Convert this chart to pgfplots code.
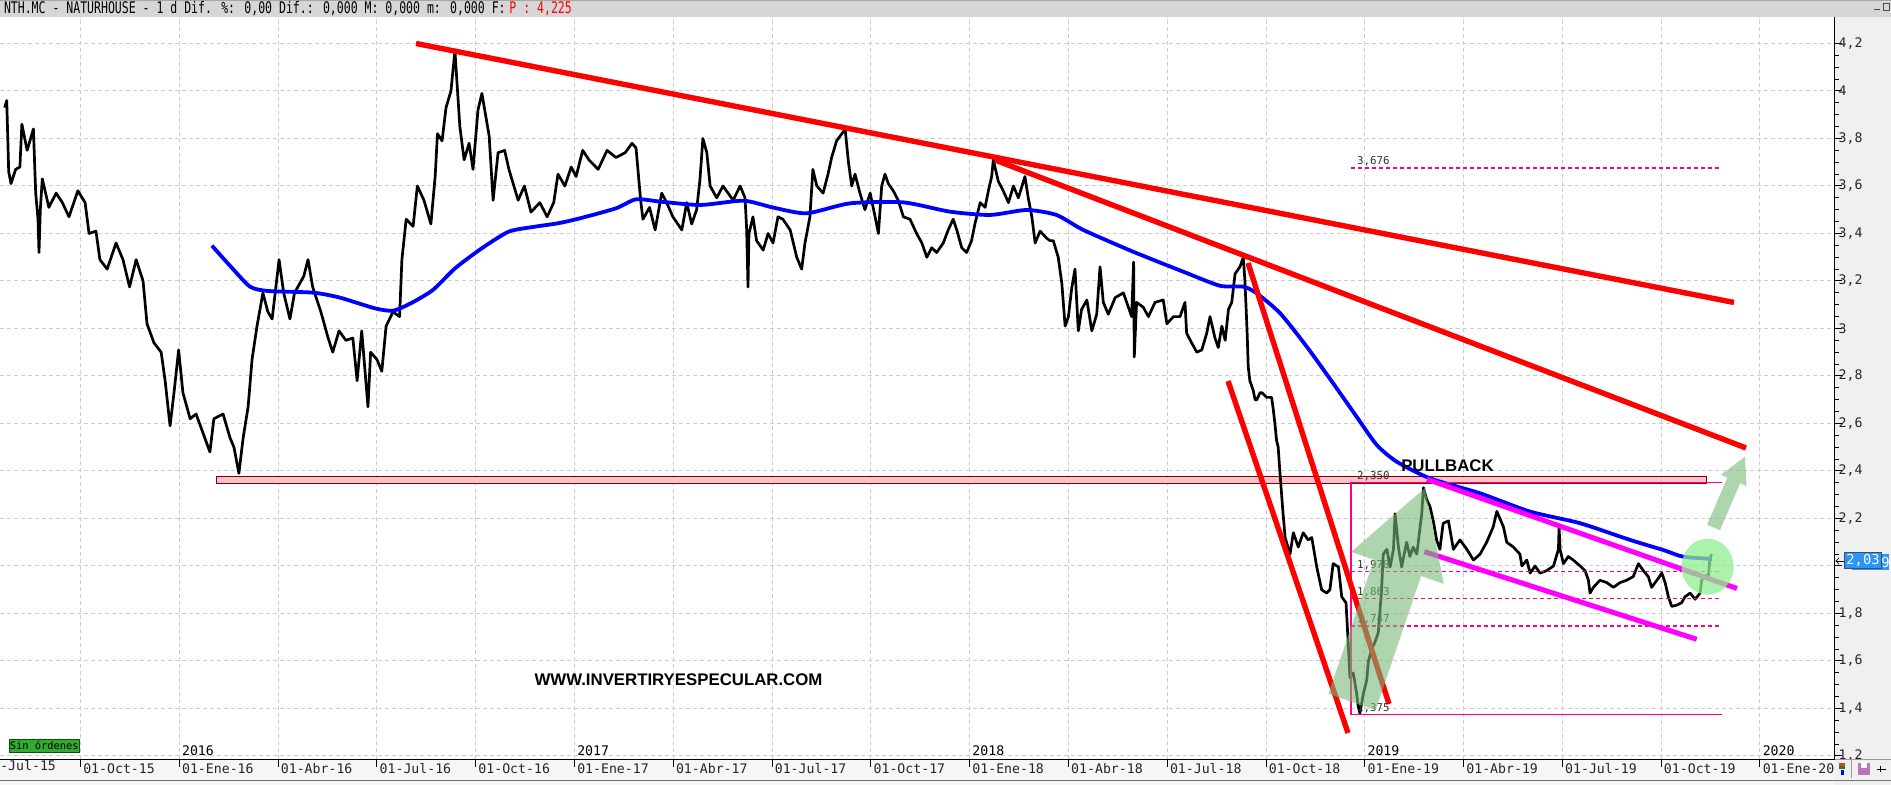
\documentclass[border=0pt]{standalone}
\usepackage{pgfplots}
\pgfplotsset{compat=1.18}
\usepackage{pgfplotstable}
\usepackage{fontspec}
\setmainfont{Liberation Sans}
\newfontfamily\monof{DejaVu Sans Mono}
\newfontfamily\headf[FakeStretch=0.72]{DejaVu Sans Mono}

\definecolor{trendred}{RGB}{255,0,0}
\definecolor{chanmag}{RGB}{255,0,255}
\definecolor{mablue}{RGB}{0,0,255}
\definecolor{fibo}{RGB}{255,0,128}
\definecolor{boxpink}{RGB}{255,192,203}
\definecolor{boxred}{RGB}{128,0,0}
\definecolor{arrowgreen}{RGB}{120,185,120}
\definecolor{circgreen}{RGB}{144,238,144}
\definecolor{panel}{RGB}{240,240,240}
\definecolor{headgray}{RGB}{214,214,214}
\definecolor{pricebox}{RGB}{40,150,250}
\definecolor{gridgray}{RGB}{205,205,205}
\definecolor{ordgreen}{RGB}{51,170,51}

% x = months since 01-Jul-15, y = price
\pgfplotstableread{
m v
0.70 3.93
0.76 3.96
0.82 3.66
0.89 3.61
1.03 3.67
1.16 3.68
1.22 3.86
1.38 3.75
1.57 3.84
1.64 3.57
1.71 3.46
1.74 3.32
1.78 3.50
1.84 3.63
2.04 3.51
2.26 3.57
2.45 3.53
2.65 3.47
2.92 3.58
3.14 3.53
3.26 3.40
3.47 3.41
3.59 3.29
3.81 3.25
4.08 3.36
4.29 3.29
4.49 3.175
4.69 3.29
4.90 3.20
5.02 3.02
5.23 2.94
5.45 2.90
5.57 2.78
5.72 2.59
5.84 2.73
5.98 2.91
6.11 2.73
6.33 2.62
6.51 2.64
6.72 2.56
6.93 2.48
7.05 2.62
7.33 2.64
7.54 2.54
7.66 2.50
7.81 2.39
7.94 2.54
8.09 2.67
8.21 2.87
8.36 3.01
8.54 3.15
8.69 3.07
8.82 3.04
9.03 3.29
9.17 3.15
9.36 3.04
9.50 3.15
9.78 3.22
9.91 3.29
10.05 3.175
10.30 3.07
10.52 2.96
10.66 2.90
10.85 2.99
11.06 2.95
11.27 2.96
11.40 2.78
11.54 2.99
11.73 2.67
11.81 2.90
12.00 2.87
12.15 2.82
12.28 3.01
12.49 3.07
12.69 3.05
12.76 3.29
12.89 3.46
13.10 3.43
13.23 3.60
13.43 3.54
13.64 3.44
13.77 3.64
13.84 3.82
13.98 3.79
14.10 3.93
14.25 4.00
14.37 4.17
14.52 3.85
14.65 3.71
14.80 3.78
14.92 3.67
15.07 3.92
15.19 3.99
15.41 3.81
15.53 3.54
15.68 3.74
15.88 3.75
16.01 3.67
16.29 3.54
16.48 3.60
16.68 3.49
16.95 3.53
17.17 3.47
17.37 3.53
17.50 3.65
17.71 3.60
17.90 3.68
18.05 3.64
18.25 3.75
18.44 3.71
18.72 3.67
18.99 3.75
19.26 3.72
19.54 3.74
19.75 3.78
19.87 3.76
20.01 3.54
20.08 3.46
20.28 3.51
20.45 3.415
20.65 3.57
20.80 3.53
20.99 3.47
21.26 3.415
21.41 3.53
21.56 3.44
21.71 3.50
21.81 3.625
21.90 3.80
22.02 3.74
22.12 3.60
22.32 3.55
22.51 3.60
22.82 3.54
23.03 3.60
23.18 3.55
23.23 3.415
23.27 3.175
23.30 3.40
23.42 3.47
23.53 3.37
23.73 3.33
23.88 3.40
24.03 3.36
24.18 3.47
24.33 3.46
24.55 3.415
24.75 3.30
24.90 3.25
25.00 3.36
25.15 3.47
25.24 3.67
25.36 3.60
25.55 3.57
25.70 3.65
25.81 3.72
25.96 3.79
26.12 3.82
26.22 3.84
26.32 3.70
26.42 3.60
26.52 3.65
26.67 3.57
26.82 3.50
26.98 3.57
27.13 3.47
27.23 3.40
27.33 3.60
27.43 3.65
27.53 3.61
27.68 3.58
27.83 3.54
27.99 3.47
28.19 3.46
28.39 3.40
28.55 3.36
28.70 3.30
28.85 3.34
29.00 3.32
29.20 3.36
29.35 3.415
29.50 3.46
29.61 3.415
29.76 3.34
29.91 3.32
30.06 3.37
30.16 3.44
30.32 3.53
30.47 3.51
30.57 3.58
30.67 3.64
30.72 3.71
30.87 3.62
31.02 3.58
31.18 3.53
31.33 3.60
31.48 3.55
31.68 3.64
31.78 3.55
31.89 3.47
31.99 3.36
32.14 3.41
32.34 3.38
32.44 3.37
32.54 3.37
32.69 3.30
32.80 3.19
32.90 3.01
33.00 3.05
33.10 3.17
33.20 3.25
33.30 2.99
33.40 3.08
33.56 3.12
33.71 2.99
33.86 3.06
33.96 3.26
34.06 3.11
34.21 3.06
34.42 3.13
34.67 3.15
34.82 3.09
34.92 3.05
34.98 3.28
35.00 2.88
35.07 3.11
35.27 3.09
35.43 3.05
35.63 3.11
35.88 3.12
35.99 3.02
36.19 3.05
36.39 3.05
36.54 3.11
36.59 2.98
36.74 2.94
36.90 2.90
37.05 2.91
37.20 2.98
37.30 3.05
37.45 2.96
37.55 2.92
37.66 3.01
37.76 2.95
37.86 3.08
37.96 3.11
38.06 3.23
38.21 3.26
38.31 3.30
38.36 3.20
38.41 3.04
38.43 2.97
38.46 2.84
38.51 2.78
38.61 2.74
38.67 2.70
38.72 2.70
38.82 2.73
38.87 2.73
39.02 2.71
39.17 2.71
39.22 2.66
39.27 2.60
39.32 2.53
39.37 2.50
39.42 2.40
39.51 2.235
39.58 2.12
39.73 2.05
39.83 2.14
39.98 2.08
40.13 2.14
40.28 2.11
40.39 2.12
40.54 1.996
40.69 1.90
40.84 1.886
40.94 1.90
41.04 2.01
41.20 1.996
41.30 1.87
41.43 1.845
41.47 1.745
41.55 1.53
41.65 1.55
41.75 1.465
41.80 1.41
41.85 1.38
41.96 1.465
42.06 1.52
42.11 1.60
42.21 1.65
42.31 1.68
42.41 1.72
42.51 1.90
42.56 2.05
42.67 2.07
42.77 1.996
42.87 2.07
42.92 2.22
43.02 2.08
43.12 1.996
43.27 2.10
43.37 2.04
43.47 2.08
43.58 2.05
43.68 2.165
43.73 2.22
43.78 2.33
43.88 2.28
43.98 2.25
44.08 2.19
44.18 2.11
44.28 2.07
44.38 2.18
44.54 2.19
44.69 2.07
44.89 2.11
45.10 2.07
45.30 2.025
45.50 2.05
45.70 2.10
45.90 2.165
46.01 2.23
46.21 2.165
46.31 2.10
46.51 2.08
46.71 2.05
46.77 2.00
46.92 2.025
47.02 1.97
47.17 2.00
47.32 1.97
47.52 1.98
47.73 2.00
47.88 2.07
47.90 2.165
47.93 2.07
48.03 2.01
48.18 2.04
48.33 2.025
48.54 2.00
48.69 1.98
48.79 1.94
48.84 1.886
48.94 1.91
49.14 1.94
49.35 1.93
49.55 1.91
49.75 1.93
49.95 1.94
50.15 1.955
50.31 2.01
50.46 1.98
50.61 1.955
50.71 1.91
50.87 1.94
51.02 1.97
51.12 1.93
51.22 1.87
51.32 1.83
51.47 1.835
51.62 1.845
51.72 1.87
51.88 1.886
52.03 1.86
52.18 1.886
52.23 1.94
52.33 1.96
52.43 1.955
52.48 2.03
52.53 2.05
}\pricetable

% moving average
\pgfplotstableread{
m v
6.99 3.349
7.60 3.255
8.15 3.176
8.69 3.158
10.05 3.151
10.85 3.131
11.94 3.085
12.49 3.075
13.03 3.106
13.70 3.162
14.38 3.254
15.19 3.338
16.01 3.408
16.82 3.429
17.50 3.443
18.17 3.464
19.26 3.506
19.87 3.544
20.62 3.534
21.82 3.520
23.13 3.538
24.04 3.509
25.05 3.485
26.37 3.527
27.99 3.531
29.40 3.492
30.62 3.478
31.73 3.499
32.64 3.478
33.45 3.415
34.97 3.323
36.49 3.239
37.60 3.180
38.31 3.176
38.72 3.148
39.43 3.064
40.24 2.923
41.04 2.769
41.75 2.629
42.36 2.510
42.97 2.439
43.98 2.369
45.50 2.306
47.02 2.229
48.54 2.180
50.05 2.110
51.07 2.067
51.67 2.039
52.54 2.030
}\matable

\begin{document}
\begin{tikzpicture}
\useasboundingbox (0,0) rectangle (945.5pt,-392.5pt);
\clip (0,0) rectangle (945.5pt,-392.5pt);

% window background (pixel units)
\begin{scope}[x=0.5pt,y=-0.5pt]
  \fill[white] (0,0) rectangle (1891,785);
  \fill[headgray] (0,0) rectangle (1891,17);
  \fill[black!35] (0,0) rectangle (1891,1.5);
  \fill[panel] (1834.6,17) rectangle (1891,785);
  \fill[panel!60!white] (0,759.3) rectangle (1834.6,785);
\end{scope}

\begin{axis}[
  at={(0pt,-379.65pt)}, anchor=south west,
  scale only axis, width=917.3pt, height=371.15pt,
  xmin=0.5557, xmax=56.267, ymin=1.1861, ymax=4.3116,
  axis x line*=bottom, axis y line*=right,
  axis line style={black, line width=0.6pt, -},
  tick align=outside,
  major tick length=3.8pt, minor tick length=2pt,
  every tick/.style={black, line width=0.5pt},
  xtick={3,6,...,54},
  xticklabels={01-Oct-15,01-Ene-16,01-Abr-16,01-Jul-16,01-Oct-16,01-Ene-17,01-Abr-17,01-Jul-17,01-Oct-17,01-Ene-18,01-Abr-18,01-Jul-18,01-Oct-18,01-Ene-19,01-Abr-19,01-Jul-19,01-Oct-19,01-Ene-20},
  ytick={1.2,1.4,1.6,1.8,2,2.2,2.4,2.6,2.8,3,3.2,3.4,3.6,3.8,4,4.2},
  yticklabels={{1,2},{1,4},{1,6},{1,8},{},{2,2},{2,4},{2,6},{2,8},{3},{3,2},{3,4},{3,6},{3,8},{4},{4,2}},
  minor y tick num=3,
  grid=major,
  major grid style={gridgray, line width=0.5pt, dash pattern=on 2pt off 1.5pt},
  tick label style={font=\monof\fontsize{6.6}{7}\selectfont, text=black!85},
  xticklabel style={anchor=north west, inner sep=0pt, xshift=1.2pt, yshift=2pt},
  yticklabel style={anchor=west, inner sep=0pt, xshift=-2pt},
]

% support zone
\draw[boxred, fill=boxpink, line width=0.5pt] (axis cs:7.115,2.348) rectangle (axis cs:52.362,2.376);

% price
\addplot[black, line width=1.35pt, line join=round] table[x=m,y=v]{\pricetable};

% moving average
\addplot[mablue, line width=1.9pt, smooth, tension=0.4] table[x=m,y=v]{\matable};

% retracement tool
\addplot[fibo, line width=0.6pt] coordinates {(52.839,2.35) (41.582,2.35) (41.582,1.375) (52.839,1.375)};
\addplot[fibo, line width=0.6pt, dash pattern=on 2pt off 1.5pt] coordinates {(41.582,1.978) (52.839,1.978)};
\addplot[fibo, line width=0.6pt, dash pattern=on 2pt off 1.5pt] coordinates {(41.582,1.863) (52.839,1.863)};
\addplot[fibo, line width=0.6pt, dash pattern=on 2pt off 1.5pt] coordinates {(41.582,1.747) (52.839,1.747)};
\addplot[fibo, line width=0.6pt, dash pattern=on 2pt off 1.5pt] coordinates {(41.582,3.676) (52.839,3.676)};

% trend lines
\addplot[trendred, line width=2.7pt] coordinates {(13.189,4.200) (53.212,3.1095)};
\addplot[trendred, line width=2.7pt] coordinates {(30.771,3.7095) (53.577,2.4969)};
\addplot[trendred, line width=2.7pt] coordinates {(38.454,3.2758) (42.736,1.419)};
\addplot[trendred, line width=2.7pt] coordinates {(37.847,2.779) (41.491,1.2969)};

% channel
\addplot[chanmag, line width=2.5pt] coordinates {(43.889,2.3651) (53.303,1.9053)};
\addplot[chanmag, line width=2.5pt] coordinates {(43.808,2.0603) (52.080,1.6914)};

% level labels
\begin{scope}[every node/.style={anchor=base west, inner sep=0pt, font=\monof\fontsize{5.4}{6}\selectfont, text=black!80}]
\node at ([yshift=1.6pt]axis cs:41.755,3.676) {3,676};
\node at ([yshift=1.6pt]axis cs:41.755,2.350) {2,350};
\node at ([yshift=1.6pt]axis cs:41.755,1.978) {1,978};
\node at ([yshift=1.6pt]axis cs:41.755,1.863) {1,863};
\node at ([yshift=1.6pt]axis cs:41.755,1.747) {1,747};
\node at ([yshift=1.6pt]axis cs:41.755,1.375) {1,375};
\end{scope}

% year markers
\begin{scope}[every node/.style={anchor=base west, inner sep=0pt, font=\monof\fontsize{6.6}{7}\selectfont}]
\draw[black, line width=0.5pt] (axis cs:6,1.1861) -- ++(0,6.3pt);
\node at ([xshift=1.2pt,yshift=1.8pt]axis cs:6,1.1861) {2016};
\draw[black, line width=0.5pt] (axis cs:18,1.1861) -- ++(0,6.3pt);
\node at ([xshift=1.2pt,yshift=1.8pt]axis cs:18,1.1861) {2017};
\draw[black, line width=0.5pt] (axis cs:30,1.1861) -- ++(0,6.3pt);
\node at ([xshift=1.2pt,yshift=1.8pt]axis cs:30,1.1861) {2018};
\draw[black, line width=0.5pt] (axis cs:42,1.1861) -- ++(0,6.3pt);
\node at ([xshift=1.2pt,yshift=1.8pt]axis cs:42,1.1861) {2019};
\draw[black, line width=0.5pt] (axis cs:54,1.1861) -- ++(0,6.3pt);
\node at ([xshift=1.2pt,yshift=1.8pt]axis cs:54,1.1861) {2020};
\end{scope}

% texts
\node[font=\bfseries\fontsize{8.4}{10}\selectfont] at (axis cs:21.16,1.52) {WWW.INVERTIRYESPECULAR.COM};
\node[font=\bfseries\fontsize{8.4}{10}\selectfont] at (axis cs:44.51,2.421) {PULLBACK};

% arrows and circle
\fill[arrowgreen, opacity=0.6] (axis cs:40.896,1.4615) -- (axis cs:42.278,2.0261) -- (axis cs:41.588,2.0594) -- (axis cs:43.829,2.3285) -- (axis cs:44.400,1.9247) -- (axis cs:43.711,1.9579) -- (axis cs:42.329,1.3933) -- cycle;
\fill[arrowgreen, opacity=0.6] (axis cs:52.395,2.1739) -- (axis cs:53.009,2.3718) -- (axis cs:52.815,2.3840) -- (axis cs:53.546,2.4603) -- (axis cs:53.592,2.3360) -- (axis cs:53.397,2.3483) -- (axis cs:52.784,2.1504) -- cycle;
\fill[circgreen, opacity=0.75] (axis cs:52.41,1.997) ellipse [x radius=13pt, y radius=14pt];
\end{axis}

% overlays in pixel units
\begin{scope}[x=0.5pt,y=-0.5pt]
  % header
  \node[anchor=west, inner sep=0pt, font=\headf\fontsize{8}{9}\selectfont] at (3.6,9) {NTH.MC - NATURHOUSE -  1 d Dif. \%: 0,00 Dif.: 0,000 M: 0,000 m: 0,000 F:};
  \node[anchor=west, inner sep=0pt, font=\headf\fontsize{8}{9}\selectfont, text=red] at (509,9) {P : 4,225};
  \draw[black!70, line width=0.5pt] (1874,10) -- (1880,10);
  \draw[black!70, line width=0.4pt] (1883,3) rectangle (1889,10);
  % first partial date label
  \node[anchor=north west, inner sep=0pt, font=\monof\fontsize{6.6}{7}\selectfont, text=black!85] at (-16,760) {01-Jul-15};
  % status box
  \draw[fill=ordgreen, draw=green!35!black, line width=0.3pt] (9.3,739) rectangle (79.3,752);
  \node[inner sep=0pt, font=\monof\fontsize{5.2}{6}\selectfont] at (44.3,745.5) {Sin órdenes};
  % bottom right corner and icons
  \fill[panel] (1834.6,759.3) rectangle (1891,785);
  \draw[black!40, line width=0.3pt] (1834.6,759.3) -- (1891,759.3);
  \fill[red!80] (1839,763) rectangle (1845,766);
  \fill[green!60!black] (1839,766) rectangle (1845,769);
  \fill[blue] (1840.5,770) rectangle (1843.5,775);
  \draw[black!40, line width=0.3pt] (1851.5,760) -- (1851.5,778);
  \fill[violet!55] (1858,763) rectangle (1870,775);
  \fill[white] (1861,763) rectangle (1867,768);
  \draw[black, line width=0.4pt] (1877,769) -- (1886,769);
  \draw[black, line width=0.4pt] (1880,766) -- (1880,772);
  \draw[black!55, line width=0.6pt] (0,780.5) -- (1891,780.5);
  % price tag
  \fill[pricebox] (1852,554) rectangle (1889.3,570);
  \node[inner sep=0pt, text=white, font=\monof\fontsize{6.9}{7}\selectfont] at (1885.5,562) {9};
  \filldraw[fill=pricebox, draw=black!70, line width=0.4pt] (1844.3,552.3) rectangle (1881.7,568.3);
  \node[inner sep=0pt, text=white, font=\monof\fontsize{6.9}{7}\selectfont] at (1863,560.3) {2,03};
  \draw[<-, black, line width=0.4pt] (1835.5,561) -- (1843.5,561);
\end{scope}
\end{tikzpicture}
\end{document}
